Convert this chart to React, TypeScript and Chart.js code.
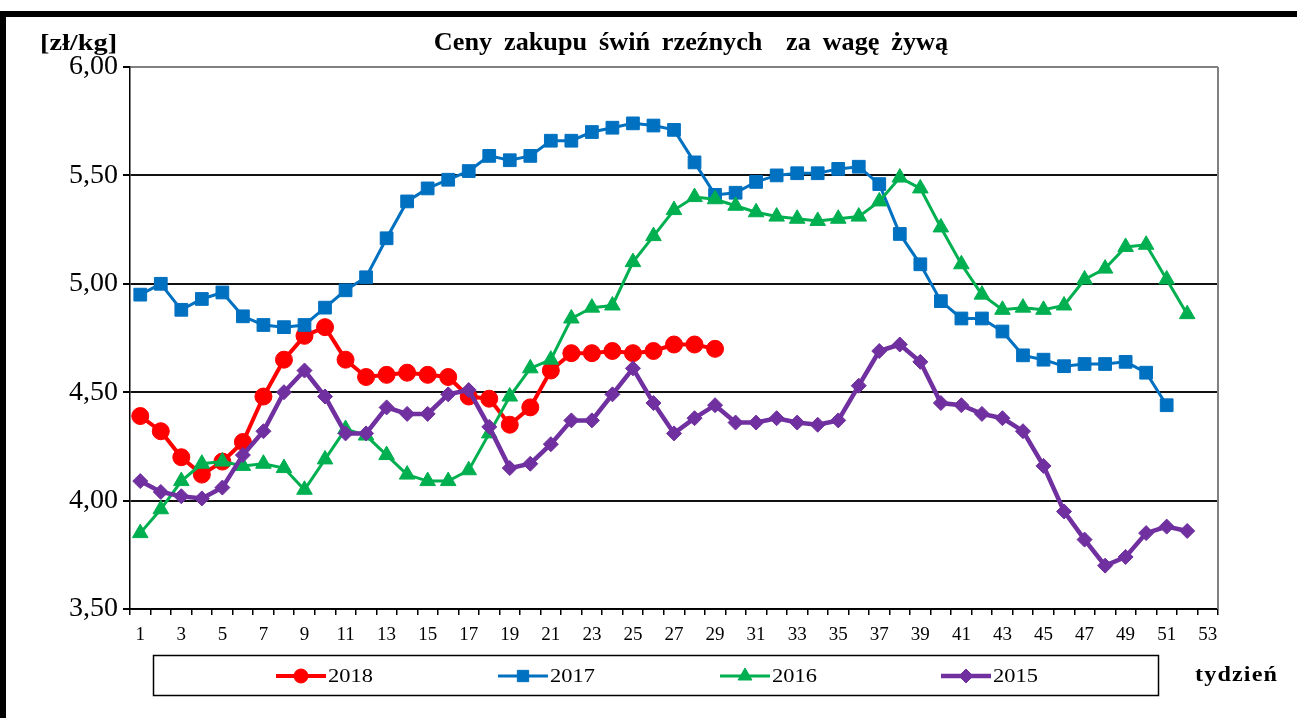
import React, { useEffect, useRef } from 'react';
import { Chart, registerables } from 'chart.js';
import { drawPoint } from 'chart.js/helpers';

Chart.register(...registerables);

const weeks = ['1','2','3','4','5','6','7','8','9','10','11','12','13','14','15','16','17','18','19','20','21','22','23','24','25','26','27','28','29','30','31','32','33','34','35','36','37','38','39','40','41','42','43','44','45','46','47','48','49','50','51','52','53'];

const s2018 = [4.39, 4.32, 4.20, 4.12, 4.18, 4.27, 4.48, 4.65, 4.76, 4.80, 4.65, 4.57, 4.58, 4.59, 4.58, 4.57, 4.48, 4.47, 4.35, 4.43, 4.60, 4.68, 4.68, 4.69, 4.68, 4.69, 4.72, 4.72, 4.70];

const s2017 = [4.95, 5.00, 4.88, 4.93, 4.96, 4.85, 4.81, 4.80, 4.81, 4.89, 4.97, 5.03, 5.21, 5.38, 5.44, 5.48, 5.52, 5.59, 5.57, 5.59, 5.66, 5.66, 5.70, 5.72, 5.74, 5.73, 5.71, 5.56, 5.41, 5.42, 5.47, 5.50, 5.51, 5.51, 5.53, 5.54, 5.46, 5.23, 5.09, 4.92, 4.84, 4.84, 4.78, 4.67, 4.65, 4.62, 4.63, 4.63, 4.64, 4.59, 4.44];

const s2016 = [3.85, 3.96, 4.09, 4.17, 4.18, 4.16, 4.17, 4.15, 4.05, 4.19, 4.33, 4.30, 4.21, 4.12, 4.09, 4.09, 4.14, 4.31, 4.48, 4.61, 4.65, 4.84, 4.89, 4.90, 5.10, 5.22, 5.34, 5.40, 5.39, 5.36, 5.33, 5.31, 5.30, 5.29, 5.30, 5.31, 5.38, 5.49, 5.44, 5.26, 5.09, 4.95, 4.88, 4.89, 4.88, 4.90, 5.02, 5.07, 5.17, 5.18, 5.02, 4.86];

const s2015 = [4.09, 4.04, 4.02, 4.01, 4.06, 4.21, 4.32, 4.50, 4.60, 4.48, 4.31, 4.31, 4.43, 4.40, 4.40, 4.49, 4.51, 4.34, 4.15, 4.17, 4.26, 4.37, 4.37, 4.49, 4.61, 4.45, 4.31, 4.38, 4.44, 4.36, 4.36, 4.38, 4.36, 4.35, 4.37, 4.53, 4.69, 4.72, 4.64, 4.45, 4.44, 4.40, 4.38, 4.32, 4.16, 3.95, 3.82, 3.70, 3.74, 3.85, 3.88, 3.86];

const seriesLabels = ['2018', '2017', '2016', '2015'];
const yMin = 3.5;
const yMax = 6.0;
const yStep = 0.5;

const titleText = 'Ceny zakupu świń rzeźnych  za wagę żywą';
const unitText = '[zł/kg]';
const xAxisText = 'tydzień';

const FONT = "'Liberation Serif', 'Times New Roman', serif";

const styles = [
  { color: '#FF0000', pointStyle: 'circle', radius: 8.5, lineWidth: 4, legendRadius: 7 },
  { color: '#0070C0', pointStyle: 'rect', radius: 9, lineWidth: 3, legendRadius: 8 },
  { color: '#00B050', pointStyle: 'triangle', radius: 9, lineWidth: 3, legendRadius: 8 },
  { color: '#7030A0', pointStyle: 'rectRot', radius: 7.5, lineWidth: 4.5, legendRadius: 7 },
];

const legendX = [276, 498, 720, 941];

function stretchedText(ctx: CanvasRenderingContext2D, text: string, x: number, y: number, sx: number, align: 'left' | 'center') {
  ctx.save();
  ctx.translate(x, y);
  ctx.scale(sx, 1);
  ctx.textAlign = align;
  ctx.fillText(text, 0, 0);
  ctx.restore();
}

const decorPlugin = {
  id: 'decor',
  beforeDraw(chart: any) {
    const { ctx, width, height } = chart;
    ctx.save();
    ctx.fillStyle = '#ffffff';
    ctx.fillRect(0, 0, width, height);
    ctx.fillStyle = '#000000';
    ctx.fillRect(0, 11, width, 6);
    ctx.fillRect(0, 11, 6, height - 11);
    ctx.restore();
  },
  afterDraw(chart: any) {
    const { ctx, chartArea } = chart;
    ctx.save();
    ctx.strokeStyle = '#808080';
    ctx.lineWidth = 2;
    ctx.beginPath();
    ctx.moveTo(chartArea.right, chartArea.top);
    ctx.lineTo(chartArea.right, chartArea.bottom);
    ctx.stroke();

    ctx.fillStyle = '#000';
    ctx.textBaseline = 'middle';
    ctx.font = `bold 25px ${FONT}`;
    (ctx as any).wordSpacing = '5px';
    stretchedText(ctx, titleText, 691, 44, 1.05, 'center');
    (ctx as any).wordSpacing = '0px';
    ctx.font = `bold 24px ${FONT}`;
    stretchedText(ctx, unitText, 40, 44, 1.18, 'left');

    ctx.strokeStyle = '#000';
    ctx.lineWidth = 1.5;
    ctx.strokeRect(153.5, 655.5, 1005, 40);
    const ly = 676;
    chart.data.datasets.forEach((ds: any, i: number) => {
      const st = styles[i];
      const x0 = legendX[i];
      ctx.strokeStyle = st.color;
      ctx.fillStyle = st.color;
      ctx.lineWidth = st.lineWidth;
      ctx.beginPath();
      ctx.moveTo(x0, ly);
      ctx.lineTo(x0 + 50, ly);
      ctx.stroke();
      ctx.lineWidth = 1;
      drawPoint(ctx, { pointStyle: st.pointStyle, rotation: 0, radius: st.legendRadius, borderWidth: 1 }, x0 + 25, ly);
      ctx.fillStyle = '#000';
      ctx.font = `19px ${FONT}`;
      stretchedText(ctx, ds.label, x0 + 52, ly + 1, 1.18, 'left');
    });

    ctx.font = `bold 21px ${FONT}`;
    ctx.fillStyle = '#000';
    (ctx as any).letterSpacing = '1px';
    stretchedText(ctx, xAxisText, 1195, 676, 1.15, 'left');
    (ctx as any).letterSpacing = '0px';
    ctx.restore();
  },
};

export default function App() {
  const ref = useRef<HTMLCanvasElement | null>(null);
  useEffect(() => {
    if (!ref.current) return;
    const allData = [s2018, s2017, s2016, s2015];
    const chart = new Chart(ref.current, {
      type: 'line',
      data: {
        labels: weeks,
        datasets: allData.map((d, i) => ({
          label: seriesLabels[i],
          data: d,
          borderColor: styles[i].color,
          backgroundColor: styles[i].color,
          borderWidth: styles[i].lineWidth,
          pointStyle: styles[i].pointStyle as any,
          pointRadius: styles[i].radius,
          pointHoverRadius: styles[i].radius,
          pointBorderWidth: 1,
          pointBackgroundColor: styles[i].color,
          pointBorderColor: styles[i].color,
          tension: 0,
          fill: false,
          order: 3 - i,
        })),
      },
      options: {
        responsive: false,
        animation: false,
        devicePixelRatio: 1,
        layout: { padding: { left: 0, right: 79, top: 67, bottom: 69 } },
        plugins: {
          legend: { display: false },
          title: { display: false },
          tooltip: { enabled: false },
        },
        scales: {
          x: {
            type: 'category',
            offset: true,
            afterFit: (s: any) => { s.height = 40; },
            grid: { offset: true, drawOnChartArea: false, drawTicks: true, tickLength: 6, tickColor: '#000', lineWidth: 1.5 },
            border: { color: '#000', width: 1.5 },
            ticks: {
              autoSkip: false,
              maxRotation: 0,
              minRotation: 0,
              padding: 9,
              color: '#000',
              font: { family: FONT, size: 19 },
              callback: (_v: any, idx: number) => (idx % 2 === 0 ? weeks[idx] : ''),
            },
          },
          y: {
            min: yMin,
            max: yMax,
            afterFit: (s: any) => { s.width = 130; },
            grid: {
              color: (c: any) => (c.tick && c.tick.value === yMax ? '#808080' : '#111'),
              tickColor: '#000',
              lineWidth: 2,
              tickLength: 7,
            },
            border: { color: '#000', width: 1.5 },
            ticks: {
              stepSize: yStep,
              padding: 5,
              color: '#000',
              font: { family: FONT, size: 28 },
              callback: (v: any) => Number(v).toFixed(2).replace('.', ','),
            },
          },
        },
      },
      plugins: [decorPlugin],
    });
    return () => chart.destroy();
  }, []);
  return (
    <div style={{ position: 'fixed', left: 0, top: 0, width: 1297, height: 718, background: '#fff' }}>
      <canvas ref={ref} width={1297} height={718} style={{ width: 1297, height: 718, display: 'block' }} />
    </div>
  );
}
